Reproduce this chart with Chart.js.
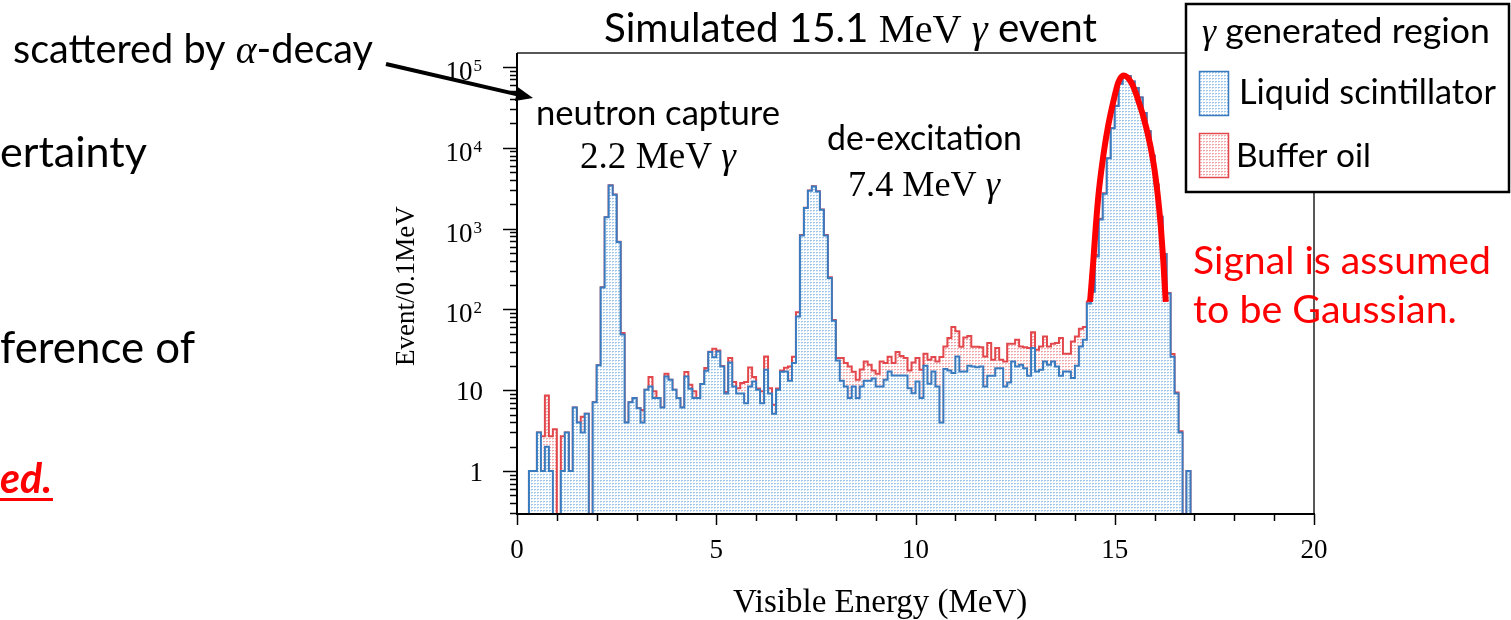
<!DOCTYPE html>
<html><head><meta charset="utf-8">
<script src="https://cdn.jsdelivr.net/npm/chart.js@4.4.0/dist/chart.umd.min.js"></script>
<style>html,body{margin:0;padding:0;background:#fff;overflow:hidden}#wrap{width:1511px;height:620px;position:relative}</style>
</head><body><div id="wrap"><canvas id="c" width="1511" height="620"></canvas></div>
<script>
// ---- data ----
const binStart = 0.0;
const binWidth = 0.1;
// Liquid scintillator (events / 0.1 MeV), bins 0.0 .. 17.0 MeV
const lsCounts = [
0,0,0,1,1,3,1,2,1,0,
0,1,3,1,6.1,4.0,3.0,5.1,0,7.1,
20.3,187,1377,3425,2630,682,49,4.0,7.1,8.0,
6.0,4.0,10.1,11.1,8.0,8.0,6.1,14.8,13.5,10.1,
8.0,6.1,14.8,10.4,8.0,8.0,11.9,17.4,29.7,25.5,
30.2,19.7,9.1,22,11.1,9.1,9.1,6.9,11.1,12.8,
10.1,6.9,17.9,9.1,5.1,10.1,16.9,17,13.1,21.7,
82,824,1800,2944,3330,2885,1714,824,245,72.5,
23.4,13.1,11.1,8.0,11.1,8.0,11.1,13.1,13.1,14,
11.1,11.1,13.5,17,15.2,15.2,15.2,15.2,10.6,9.2,
12.8,8.0,20.1,12.0,17.1,11.1,4.0,18.3,17.5,16.3,
26.2,17.1,17.1,20.1,19.7,19.3,19.7,11.1,15.1,15.1,
18.7,18.7,11.1,12.5,22.7,19.7,20.7,18.7,15.1,33.3,
17.1,17.9,22.7,20.7,22.7,19.7,15.1,17.1,17.1,14.2,
20.1,34.8,42.2,118,165,450,1300,2700,7400,17400,
33000,62000,76000,77000,66000,55000,42000,27000,16000,8000,
3500,1400,480,157,26,9.1,3.0,0,1,0
];
// Liquid scintillator + Buffer oil (stacked total)
const totalCounts = [
0,0,0,1,1,3,2.7,8.6,2.7,3.3,
0,2.7,3,1,6.1,4.0,4.7,5.1,0,7.1,
20.3,188,1380,3430,2640,686,51,4.0,7.1,8.0,
6.0,5.7,10.1,14.6,9.7,8.0,6.1,16,13.5,10.1,
8.0,6.1,16.8,11.7,9.7,8.0,11.9,18.8,30,32.6,
31,20,9.5,25,12.6,10.6,12.3,12.6,19.1,14.6,
10.5,9.7,26.2,10.6,6.6,10.5,17.5,19,19.7,26,
92,835,1810,2960,3350,2900,1725,832,250,74,
25,25,21.7,19.7,16.9,13.5,18,22.7,20.7,17.5,
16,22.7,21.7,26,21.7,29.7,26.5,25,17.5,22,
25,17.9,28.3,23.9,25.8,22.7,25.8,34.8,44.3,60.6,
53.5,34.5,45,47,34.5,34.5,34,26.2,38.4,23.9,
33.3,23.9,22.7,37.5,37.5,42.2,34.8,34,33.3,52,
31.7,34.8,46.3,34.8,37.5,38.4,44.3,28.3,28.3,40.2,
46.3,57.6,60.6,125,180,470,1320,2730,7440,17450,
33060,62060,76060,77050,66050,55040,42030,27020,16015,8010,
3505,1404,484,160,28,9.4,3.1,0,1,0
];
// hand-drawn Gaussian outline
const gaussEnergy = [14.38,14.46,14.52,14.59,14.69,14.82,15.00,15.09,15.22,15.41,15.55,15.80,15.97,16.08,16.16,16.22,16.28];
const gaussCounts = [124,386,1000,2570,6600,17100,44300,64700,78300,64700,44300,17100,6600,2570,1000,386,124];
const xTickValues = [0,5,10,15,20];
const xMinorStep = 1;
const yTickValues = [1,10,100,1000,10000,100000];
const yTickLabels = [["1",""],["10",""],["10","2"],["10","3"],["10","4"],["10","5"]];
const xRange = [0,20];
const yRange = [0.294,148900];
const seriesNames = ["Liquid scintillator","Buffer oil"];

// ---- helpers ----
const SANS = '"Lato", "Open Sans", sans-serif';
const SERIF = '"Liberation Serif", "DejaVu Serif", serif';
const BLUE = '#3a7bbf', RED = '#e2474c';
function makePattern(c1, c2){
  const cv = document.createElement('canvas'); cv.width = 3; cv.height = 3;
  const g = cv.getContext('2d');
  g.fillStyle = '#ffffff'; g.fillRect(0,0,3,3);
  g.fillStyle = c1; g.fillRect(0,0,2,1);
  g.fillStyle = c2; g.fillRect(0,1,1,1);
  return g.createPattern(cv,'repeat');
}
const ctx0 = document.getElementById('c').getContext('2d');
const bluePat = makePattern('#9ec6ea','#cfe2f4');
const redPat = makePattern('#f0a6a8','#f8d3d4');
const TINY = 1e-3; // empty bins fall below the axis
function histPoints(counts){
  const pts = [];
  for (let i = 0; i < counts.length; i++) {
    pts.push({x: +(binStart + i*binWidth).toFixed(3), y: counts[i] > 0 ? counts[i] : TINY});
  }
  const last = counts[counts.length-1];
  pts.push({x: +(binStart + counts.length*binWidth).toFixed(3), y: last > 0 ? last : TINY});
  return pts;
}
const gaussPts = gaussEnergy.map((e,i)=>({x:e, y:gaussCounts[i]}));

function fstr(s, size){ return (s.st||'') + ' ' + (s.w||'') + ' ' + size.toFixed(2) + 'px ' + s.f; }
function richWidth(ctx, segs, size){ let w = 0; for (const s of segs){ ctx.font = fstr(s,size); w += ctx.measureText(s.t).width; } return w; }
function drawRich(ctx, segs, x, base, width, color, baseSize){
  const size = width ? baseSize*width/richWidth(ctx, segs, baseSize) : baseSize;
  let cx = x; ctx.fillStyle = color; ctx.textAlign = 'left'; ctx.textBaseline = 'alphabetic';
  for (const s of segs){ ctx.font = fstr(s,size); ctx.fillText(s.t, cx, base); cx += ctx.measureText(s.t).width; }
  return cx;
}

const decor = {
  id: 'decor',
  afterDraw(chart){
    const ctx = chart.ctx, a = chart.chartArea, xs = chart.scales.x, ys = chart.scales.y;
    ctx.save();
    // frame top/right
    ctx.strokeStyle = '#222'; ctx.lineWidth = 1.5;
    ctx.beginPath(); ctx.moveTo(a.left, a.top); ctx.lineTo(a.right, a.top); ctx.lineTo(a.right, a.bottom); ctx.stroke();
    // axes
    ctx.strokeStyle = '#000'; ctx.lineWidth = 2;
    ctx.beginPath(); ctx.moveTo(a.left, a.top); ctx.lineTo(a.left, a.bottom); ctx.lineTo(a.right+1, a.bottom); ctx.stroke();
    // x ticks
    ctx.lineWidth = 1.5;
    for (let v = xRange[0]; v <= xRange[1]; v += xMinorStep){
      const px = Math.round(xs.getPixelForValue(v)) + 0.5;
      const len = xTickValues.includes(v) ? 11 : 7;
      ctx.beginPath(); ctx.moveTo(px, a.bottom); ctx.lineTo(px, a.bottom+len); ctx.stroke();
    }
    // y ticks
    for (let d = -1; d <= 5; d++){
      for (let m = 1; m <= 9; m++){
        const v = m*Math.pow(10,d);
        if (v < yRange[0] || v > yRange[1]) continue;
        const py = Math.round(ys.getPixelForValue(v)) + 0.5;
        const len = m === 1 ? 14 : 7;
        ctx.beginPath(); ctx.moveTo(a.left-len, py); ctx.lineTo(a.left, py); ctx.stroke();
      }
    }
    // x tick labels
    ctx.fillStyle = '#000'; ctx.textAlign = 'center'; ctx.textBaseline = 'alphabetic';
    ctx.font = '27px ' + SERIF;
    for (const v of xTickValues){ ctx.fillText(String(v), xs.getPixelForValue(v), 558); }
    // y tick labels
    yTickValues.forEach((v,i)=>{
      const py = ys.getPixelForValue(v);
      const [b,e] = yTickLabels[i];
      ctx.textAlign = 'right';
      if (!e){ ctx.font = '27px ' + SERIF; ctx.fillText(b, 483, py + 10); }
      else {
        ctx.font = '17px ' + SERIF; ctx.fillText(e, 482, py + 4);
        const ew = ctx.measureText(e).width;
        ctx.font = '27px ' + SERIF; ctx.fillText(b, 482 - ew - 1, py + 13);
      }
    });
    // axis titles
    ctx.textAlign = 'left'; ctx.font = '33px ' + SERIF; ctx.fillText('Visible Energy (MeV)', 733, 612);
    ctx.save(); ctx.translate(414, 366); ctx.rotate(-Math.PI/2); ctx.font = '27px ' + SERIF; ctx.textAlign='left'; ctx.fillText('Event/0.1MeV', 0, 0); ctx.restore();

    // title
    drawRich(ctx, [{t:'Simulated 15.1 ',f:SANS},{t:'MeV ',f:SERIF},{t:'\u03B3',f:SERIF,st:'italic'},{t:' event',f:SANS}], 604, 42, 493, '#000', 32);
    // annotations in plot
    drawRich(ctx, [{t:'neutron capture',f:SANS}], 536, 125, 244, '#000', 30);
    drawRich(ctx, [{t:'2.2 MeV ',f:SERIF},{t:'\u03B3',f:SERIF,st:'italic'}], 580, 168, 156, '#000', 30);
    drawRich(ctx, [{t:'de-excitation',f:SANS}], 827, 150, 195, '#000', 30);
    drawRich(ctx, [{t:'7.4 MeV ',f:SERIF},{t:'\u03B3',f:SERIF,st:'italic'}], 848, 196, 152, '#000', 30);
    // left side slide text
    drawRich(ctx, [{t:'scattered by ',f:SANS},{t:'\u03B1',f:SERIF,st:'italic'},{t:'-decay',f:SANS}], 13, 63, 360, '#000', 30);
    drawRich(ctx, [{t:'ertainty',f:SANS}], 0, 167, 147, '#000', 36);
    drawRich(ctx, [{t:'ference of',f:SANS}], 0, 363, 195, '#000', 36);
    drawRich(ctx, [{t:'ed.',f:SANS,st:'italic',w:'bold'}], 0, 493, 52, '#ff0000', 36);
    ctx.fillStyle = '#ff0000'; ctx.fillRect(0, 498, 53, 3);
    // arrow
    const x1 = 386, y1 = 64, x2 = 533, y2 = 98;
    const dx = x2-x1, dy = y2-y1, L = Math.hypot(dx,dy), ux = dx/L, uy = dy/L;
    ctx.strokeStyle = '#000'; ctx.lineWidth = 4; ctx.lineCap = 'butt';
    ctx.beginPath(); ctx.moveTo(x1,y1); ctx.lineTo(x2-ux*14, y2-uy*14); ctx.stroke();
    ctx.fillStyle = '#000'; ctx.beginPath();
    ctx.moveTo(x2,y2); ctx.lineTo(x2-ux*17+uy*7, y2-uy*17-ux*7); ctx.lineTo(x2-ux*17-uy*7, y2-uy*17+ux*7); ctx.closePath(); ctx.fill();
    // signal note
    drawRich(ctx, [{t:'Signal is assumed',f:SANS}], 1193, 274, 298, '#ff0000', 32);
    drawRich(ctx, [{t:'to be Gaussian.',f:SANS}], 1193, 323, 264, '#ff0000', 32);
    // legend box
    ctx.fillStyle = '#fff'; ctx.fillRect(1186, 4, 323, 188);
    ctx.strokeStyle = '#000'; ctx.lineWidth = 2.5; ctx.strokeRect(1186, 4, 323, 188);
    drawRich(ctx, [{t:'\u03B3',f:SERIF,st:'italic'},{t:' generated region',f:SANS}], 1202, 43, 288, '#000', 30);
    ctx.lineWidth = 1.5;
    ctx.fillStyle = bluePat; ctx.fillRect(1199, 71, 29, 44); ctx.strokeStyle = BLUE; ctx.strokeRect(1199.5, 71.5, 29, 44);
    ctx.fillStyle = redPat; ctx.fillRect(1199, 133, 29, 44); ctx.strokeStyle = RED; ctx.strokeRect(1199.5, 133.5, 29, 44);
    drawRich(ctx, [{t:seriesNames[0],f:SANS}], 1239, 104, 257, '#000', 30);
    drawRich(ctx, [{t:seriesNames[1],f:SANS}], 1236, 167, 135, '#000', 30);
    ctx.restore();
  }
};

new Chart(ctx0, {
  type: 'line',
  data: { datasets: [
    { label: 'Gaussian', data: gaussPts, borderColor: '#ff0000', borderWidth: 6, pointRadius: 0, fill: false,
      cubicInterpolationMode: 'monotone', clip: false, borderCapStyle: 'butt' },
    { label: seriesNames[0], data: histPoints(lsCounts), stepped: 'before', borderColor: BLUE, borderWidth: 2,
      backgroundColor: bluePat, fill: 'start', pointRadius: 0, clip: {left:0,top:0,right:0,bottom:0} },
    { label: seriesNames[1], data: histPoints(totalCounts), stepped: 'before', borderColor: RED, borderWidth: 2,
      backgroundColor: redPat, fill: 'start', pointRadius: 0, clip: {left:0,top:0,right:0,bottom:0} }
  ]},
  options: {
    responsive: false, animation: false, events: [],
    layout: { padding: { left: 517, right: 197, top: 53, bottom: 106 } },
    plugins: { legend: { display: false }, tooltip: { enabled: false } },
    scales: {
      x: { type: 'linear', min: xRange[0], max: xRange[1], display: false },
      y: { type: 'logarithmic', min: yRange[0], max: yRange[1], display: false }
    }
  },
  plugins: [decor]
});
</script></body></html>
